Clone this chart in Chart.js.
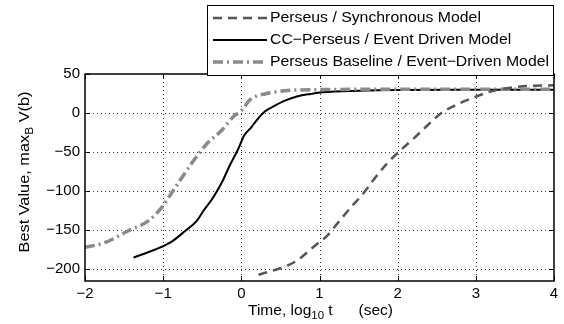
<!DOCTYPE html>
<html>
<head>
<meta charset="utf-8">
<script src="https://cdn.jsdelivr.net/npm/chart.js@4.4.1/dist/chart.umd.min.js"></script>
<style>
html,body{margin:0;padding:0;background:#fff;}
canvas{display:block;}
</style>
</head>
<body>
<canvas id="c" width="564" height="324"></canvas>
<script>
// ---- data ----
const xTicks = [-2, -1, 0, 1, 2, 3, 4];
const yTicks = [-200, -150, -100, -50, 0, 50];
const seriesNames = [
  'Perseus / Synchronous Model',
  'CC\u2212Perseus / Event Driven Model',
  'Perseus Baseline / Event\u2212Driven Model'
];
const syncX = [0.22, 0.32, 0.49, 0.71, 0.88, 1.0, 1.09, 1.24, 1.39, 1.56, 1.71, 1.86, 2.0, 2.2, 2.39, 2.56, 2.78, 3.0, 3.2, 3.48, 3.71, 4.0];
const syncY = [-207, -204, -199, -189, -175, -165, -158, -140, -122, -103, -83, -65, -51, -33, -15, 0, 12, 21, 28, 33, 35, 35.5];
const ccX = [-1.38, -1.11, -0.89, -0.72, -0.57, -0.49, -0.36, -0.25, -0.15, -0.04, 0.04, 0.13, 0.19, 0.30, 0.43, 0.55, 0.72, 0.89, 1.04, 1.5, 2.0, 3.0, 4.0];
const ccY = [-185, -175, -164.5, -151, -138, -126, -108, -89, -67.5, -46, -28, -18, -10, 2, 9.5, 15.5, 21.5, 24.5, 26.5, 28.5, 29.5, 29.8, 29.8];
const baseX = [-2, -1.75, -1.45, -1.19, -1.02, -0.89, -0.77, -0.64, -0.53, -0.43, -0.26, -0.09, 0.0, 0.11, 0.2, 0.30, 0.55, 0.98, 2.0, 3.0, 4.0];
const baseY = [-172, -166, -151, -138, -121, -102, -84, -65, -50, -38, -23, -3.5, 3, 17, 22, 24.5, 28.5, 30, 30.5, 30.5, 30.5];

// ---- styles ----
const FONT = '"Liberation Sans", Arial, Helvetica, sans-serif';
const styles = [
  {color: '#555555', width: 2.5, dash: [9, 6]},
  {color: '#000000', width: 2, dash: []},
  {color: '#8a8a8a', width: 3.5, dash: [10, 4, 2, 4]}
];
const toPts = (xs, ys) => xs.map((x, i) => ({x: x, y: ys[i]}));

function richWidth(ctx, parts, size, subSize) {
  let w = 0;
  parts.forEach(p => {
    ctx.font = (p.sub ? subSize : size) + 'px ' + FONT;
    w += ctx.measureText(p.t).width;
  });
  return w;
}
function drawRich(ctx, parts, cx, cy, size, subSize, target) {
  const w = richWidth(ctx, parts, size, subSize);
  const sx = target ? target / w : 1;
  ctx.save();
  ctx.translate(cx, cy);
  ctx.scale(sx, 1);
  let x = -w / 2;
  ctx.textBaseline = 'middle';
  ctx.textAlign = 'left';
  ctx.fillStyle = '#000';
  parts.forEach(p => {
    ctx.font = (p.sub ? subSize : size) + 'px ' + FONT;
    ctx.fillText(p.t, x, p.sub ? 5 : 0);
    x += ctx.measureText(p.t).width;
  });
  ctx.restore();
}

const overlay = {
  id: 'overlay',
  beforeDatasetsDraw(chart) {
    const {ctx, chartArea: a, scales: {x, y}} = chart;
    ctx.save();
    ctx.strokeStyle = '#333';
    ctx.lineWidth = 1;
    ctx.setLineDash([1, 3]);
    xTicks.forEach(v => {
      const px = Math.round(x.getPixelForValue(v)) + 0.5;
      if (px > a.left + 2 && px < a.right - 2) {
        ctx.beginPath(); ctx.moveTo(px, a.top); ctx.lineTo(px, a.bottom); ctx.stroke();
      }
    });
    yTicks.forEach(v => {
      const py = Math.round(y.getPixelForValue(v)) + 0.5;
      if (py > a.top + 2 && py < a.bottom - 2) {
        ctx.beginPath(); ctx.moveTo(a.left, py); ctx.lineTo(a.right, py); ctx.stroke();
      }
    });
    ctx.restore();
  },
  afterDatasetsDraw(chart) {
    const {ctx, chartArea: a, scales: {x, y}} = chart;
    ctx.save();
    // box
    ctx.strokeStyle = '#000';
    ctx.lineWidth = 1.5;
    ctx.setLineDash([]);
    ctx.strokeRect(a.left, a.top, a.right - a.left, a.bottom - a.top);
    // inward ticks
    ctx.lineWidth = 1;
    const TL = 5;
    xTicks.forEach(v => {
      const px = Math.round(x.getPixelForValue(v)) + 0.5;
      ctx.beginPath();
      ctx.moveTo(px, a.bottom); ctx.lineTo(px, a.bottom - TL);
      ctx.moveTo(px, a.top); ctx.lineTo(px, a.top + TL);
      ctx.stroke();
    });
    yTicks.forEach(v => {
      const py = Math.round(y.getPixelForValue(v)) + 0.5;
      ctx.beginPath();
      ctx.moveTo(a.left, py); ctx.lineTo(a.left + TL, py);
      ctx.moveTo(a.right, py); ctx.lineTo(a.right - TL, py);
      ctx.stroke();
    });
    // legend
    const L = {left: 207.5, top: 5.5, right: 553.5, bottom: 75.5};
    ctx.fillStyle = '#fff';
    ctx.fillRect(L.left, L.top, L.right - L.left, L.bottom - L.top);
    ctx.strokeStyle = '#000';
    ctx.lineWidth = 1;
    ctx.strokeRect(L.left, L.top, L.right - L.left, L.bottom - L.top);
    const rows = [18, 40, 62];
    ctx.font = '15px ' + FONT;
    let maxW = 0;
    seriesNames.forEach(s => { maxW = Math.max(maxW, ctx.measureText(s).width); });
    const sx = 279 / maxW;
    seriesNames.forEach((s, i) => {
      const st = styles[i];
      ctx.save();
      ctx.strokeStyle = st.color;
      ctx.lineWidth = st.width;
      ctx.setLineDash(st.dash);
      ctx.beginPath(); ctx.moveTo(213, rows[i]); ctx.lineTo(267, rows[i]); ctx.stroke();
      ctx.restore();
      ctx.save();
      ctx.translate(270, rows[i]);
      ctx.scale(sx, 1);
      ctx.fillStyle = '#000';
      ctx.textBaseline = 'middle';
      ctx.textAlign = 'left';
      ctx.font = '15px ' + FONT;
      ctx.fillText(s, 0, 0);
      ctx.restore();
    });
    // axis titles
    drawRich(ctx, [{t: 'Time, log'}, {t: '10', sub: true}, {t: ' t      (sec)'}], 320.5, 311, 15, 11, 145);
    ctx.save();
    ctx.translate(25, 172);
    ctx.rotate(-Math.PI / 2);
    drawRich(ctx, [{t: 'Best Value, max'}, {t: 'B', sub: true}, {t: ' V(b)'}], 0, 0, 15, 11, 161);
    ctx.restore();
    ctx.restore();
  }
};

const mkDs = (i, xs, ys, order) => ({
  label: seriesNames[i],
  data: toPts(xs, ys),
  borderColor: styles[i].color,
  borderWidth: styles[i].width,
  borderDash: styles[i].dash,
  pointRadius: 0,
  fill: false,
  cubicInterpolationMode: 'monotone',
  order: order
});

new Chart(document.getElementById('c'), {
  type: 'line',
  data: {
    datasets: [
      mkDs(0, syncX, syncY, 1),
      mkDs(1, ccX, ccY, 3),
      mkDs(2, baseX, baseY, 2)
    ]
  },
  options: {
    responsive: false,
    animation: false,
    devicePixelRatio: 1,
    layout: {padding: {left: 0, right: 10, top: 74, bottom: 0}},
    plugins: {legend: {display: false}, tooltip: {enabled: false}},
    scales: {
      x: {
        type: 'linear', min: -2, max: 4,
        grid: {display: false, drawTicks: false},
        border: {display: false},
        afterBuildTicks: s => { s.ticks = xTicks.map(v => ({value: v})); },
        afterFit: s => { s.height = 43; },
        ticks: {
          color: '#000', padding: 4, maxRotation: 0, autoSkip: false,
          font: {family: FONT, size: 15},
          callback: v => String(v).replace('-', '\u2212')
        }
      },
      y: {
        type: 'linear', min: -215, max: 50,
        grid: {display: false, drawTicks: false},
        border: {display: false},
        afterBuildTicks: s => { s.ticks = yTicks.map(v => ({value: v})); },
        afterFit: s => { s.width = 85; },
        ticks: {
          color: '#000', padding: 5, autoSkip: false,
          font: {family: FONT, size: 15},
          callback: v => String(v).replace('-', '\u2212')
        }
      }
    }
  },
  plugins: [overlay]
});
</script>
</body>
</html>
